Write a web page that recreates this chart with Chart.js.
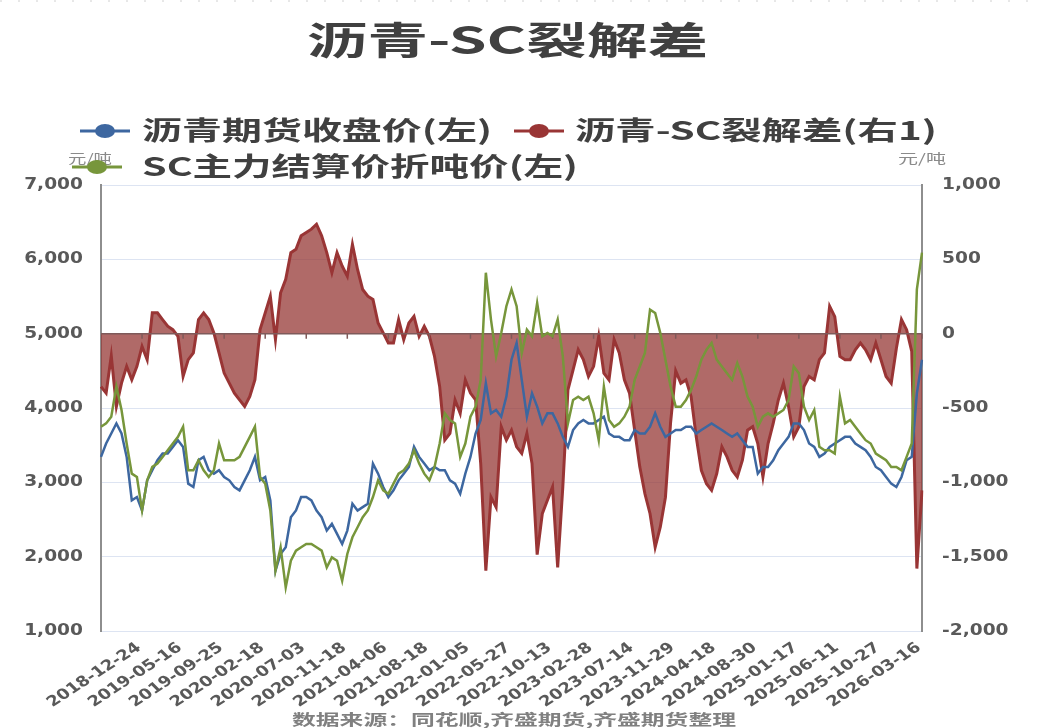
<!DOCTYPE html>
<html>
<head>
<meta charset="utf-8">
<script src="https://cdn.jsdelivr.net/npm/chart.js@4/dist/chart.umd.min.js"></script>
<style>
  html, body { margin: 0; padding: 0; background: #fff; }
  #chart { display: block; }
</style>
</head>
<body>
<canvas id="chart" width="1038" height="728"></canvas>
<script>
// tick labels on the x axis, one every 8 points (the first point has no label)
const tickDates = ['2018-12-24', '2019-05-16', '2019-09-25', '2020-02-18', '2020-07-03',
  '2020-11-18', '2021-04-06', '2021-08-18', '2022-01-05', '2022-05-27', '2022-10-13',
  '2023-02-28', '2023-07-14', '2023-11-29', '2024-04-18', '2024-08-30', '2025-01-17',
  '2025-06-11', '2025-10-27', '2026-03-16'];
const pointsPerTick = 8;

// 沥青期货收盘价 (left axis, 元/吨)
const bitumenClose = [
  3342, 3522, 3657, 3793, 3657, 3342, 2757, 2802, 2621, 3027, 3162, 3297, 3387, 3387, 3477, 3567,
  3477, 2982, 2937, 3297, 3342, 3162, 3117, 3162, 3072, 3027, 2937, 2892, 3027, 3162, 3342, 3027,
  3072, 2757, 1811, 2036, 2126, 2531, 2621, 2802, 2802, 2757, 2621, 2531, 2351, 2441, 2306, 2171,
  2351, 2712, 2621, 2666, 2712, 3252, 3117, 2937, 2802,
  2892, 3027, 3117, 3207, 3477, 3342, 3252, 3162, 3207, 3162, 3162, 3027, 2982, 2847, 3117, 3342,
  3657, 3838, 4333, 3928, 3973, 3883, 4153, 4649, 4874, 4378, 3883, 4198, 4018, 3793, 3928, 3928,
  3793, 3612, 3477, 3703, 3793, 3838, 3793, 3793, 3838, 3883, 3657, 3612, 3612, 3567, 3567, 3703,
  3657, 3657, 3748, 3928, 3748, 3612, 3657, 3703,
  3703, 3748, 3748, 3657, 3703, 3748, 3793, 3748, 3703, 3657, 3612, 3657, 3567, 3477, 3477, 3117,
  3207, 3207, 3297, 3432, 3522, 3612, 3793, 3793, 3703, 3522, 3477, 3342, 3387, 3477, 3522, 3567,
  3612, 3612, 3522, 3477, 3432, 3342, 3207, 3162, 3072, 2982, 2937, 3072, 3297, 3342, 4198, 4649
];

// 沥青-SC裂解差 (right axis)
const crackSpread = [
  -356, -400, -150, -490, -333, -220, -310, -220, -86, -175, 140, 140, 95, 50, 27, -18,
  -288, -175, -130, 95, 140, 95, 5, -130, -265, -333, -400, -446, -490, -423, -310, 27,
  140, 252, -40, 275, 365, 545, 567, 658, 680, 703, 736, 658, 545, 410, 545, 455,
  387, 601, 432, 297, 252, 230, 72, 5, -63,
  -63, 95, -40, 72, 117, -18, 50, -18, -153, -355, -716, -671, -446, -536, -311, -400,
  -446, -874, -1594, -1099, -1167, -626, -716, -649, -761, -806, -671, -874, -1486, -1211, -1121, -1031,
  -1572, -1031, -378, -243, -108, -175, -288, -220, -18, -265, -311, -40, -130, -311, -400, -649,
  -896, -1077, -1211, -1437, -1300, -1100, -600, -250,
  -333, -311, -423, -694, -919, -1009, -1054, -941, -761, -829, -919, -964, -851, -649, -626, -739,
  -964, -739, -604, -446, -333, -491, -694, -626, -355, -288, -311, -175, -130, 185, 115, -153,
  -175, -175, -108, -63, -108, -175, -63, -175, -288, -333, -100, 95, 27, -120, -1580, -1054
];

// SC主力结算价折吨价 (left axis, 元/吨)
const scPerTon = [
  3748, 3793, 3883, 4288, 3973, 3522, 3117, 3072, 2621, 3027, 3207, 3252, 3342, 3432, 3522, 3612,
  3748, 3162, 3162, 3297, 3162, 3072, 3162, 3522, 3297, 3297, 3297, 3342, 3477, 3612, 3748, 3072,
  2982, 2621, 1811, 2126, 1586, 1946, 2081, 2126, 2171, 2171, 2126, 2081, 1856, 1991, 1946, 1676,
  2036, 2261, 2396, 2531, 2621, 2802, 3027, 2892, 2847,
  2982, 3117, 3162, 3252, 3432, 3252, 3117, 3027, 3207, 3522, 3928, 3838, 3793, 3342, 3522, 3883,
  4018, 4378, 5820, 5189, 4694, 5009, 5369, 5595, 5369, 4739, 5054, 4964, 5414, 4964, 5009, 4964,
  5189, 4694, 3793, 4108, 4153, 4108, 4153, 3928, 3567, 4288, 3838, 3748, 3793, 3883, 4018, 4378,
  4559, 4739, 5324, 5279, 5009, 4649, 4288, 4018,
  4018, 4108, 4243, 4423, 4649, 4784, 4874, 4649, 4559, 4468, 4378, 4604, 4423, 4153, 4018, 3748,
  3883, 3928, 3883, 3928, 3973, 4108, 4559, 4468, 4018, 3838, 3973, 3477, 3432, 3432, 3387, 4153,
  3793, 3838, 3748, 3657, 3567, 3522, 3387, 3342, 3297, 3207, 3207, 3162, 3342, 3522, 5595, 6090
];

const labels = [];
for (let i = 0; i <= tickDates.length * pointsPerTick; i++) {
  labels.push(i > 0 && i % pointsPerTick === 0 ? tickDates[i / pointsPerTick - 1] : '');
}

const legendItems = [
  { text: '沥青期货收盘价(左)', color: '#3d67a0', x1: 80, x2: 130, y: 131, tx: 142, tw: 350 },
  { text: '沥青-SC裂解差(右1)', color: '#993535', x1: 514, x2: 564, y: 131, tx: 575, tw: 362 },
  { text: 'SC主力结算价折吨价(左)', color: '#77963b', x1: 72, x2: 122, y: 167, tx: 142, tw: 436 }
];

const stretch = 1.24; // the picture is a bit wider than tall in its lettering
const tickColor = '#595959';

// draw text squeezed/stretched to a given width
function fitText(ctx, text, x, y, w, font, color) {
  ctx.save();
  ctx.font = font;
  ctx.fillStyle = color;
  ctx.textBaseline = 'middle';
  ctx.textAlign = 'left';
  const m = ctx.measureText(text).width;
  ctx.translate(x, y);
  ctx.scale(w / m, 1);
  ctx.fillText(text, 0, 0);
  ctx.restore();
}

const zeroLine = {
  id: 'zeroLine',
  afterDatasetDraw(chart, args) {
    if (args.index !== 1) return;
    const ctx = chart.ctx;
    const { left, right } = chart.chartArea;
    const y0 = chart.scales.y1.getPixelForValue(0);
    ctx.save();
    ctx.strokeStyle = '#7f5a5a';
    ctx.lineWidth = 1.5;
    ctx.beginPath();
    ctx.moveTo(left, y0);
    ctx.lineTo(right, y0);
    labels.forEach((l, i) => {
      if (!l) return;
      const x = chart.scales.x.getPixelForValue(i);
      ctx.moveTo(x, y0);
      ctx.lineTo(x, y0 + 5);
    });
    ctx.stroke();
    ctx.restore();
  }
};

// axis labels, drawn a little wider than normal like the source picture
const axisLabels = {
  id: 'axisLabels',
  afterDraw(chart) {
    const ctx = chart.ctx;
    const xs = chart.scales.x;
    ctx.save();
    ctx.fillStyle = tickColor;
    ctx.textBaseline = 'middle';

    ctx.font = 'bold 14.5px "DejaVu Sans"';
    ctx.textAlign = 'right';
    labels.forEach((l, i) => {
      if (!l) return;
      ctx.save();
      ctx.translate(xs.getPixelForValue(i) - 3, chart.chartArea.bottom + 15);
      ctx.scale(stretch, 1);
      ctx.rotate(-39 * Math.PI / 180);
      ctx.fillText(l, 0, 0);
      ctx.restore();
    });

    ctx.font = 'bold 15px "DejaVu Sans"';
    [['y', 83, 'right'], ['y1', 942, 'left']].forEach(([id, x, align]) => {
      const sc = chart.scales[id];
      ctx.textAlign = align;
      sc.ticks.forEach(t => {
        ctx.save();
        ctx.translate(x, sc.getPixelForValue(t.value));
        ctx.scale(stretch, 1);
        ctx.fillText(t.value.toLocaleString('en-US'), 0, 0);
        ctx.restore();
      });
    });
    ctx.restore();
  }
};

const texts = {
  id: 'texts',
  afterDraw(chart) {
    const ctx = chart.ctx;
    ctx.save();
    ctx.strokeStyle = '#d0d0d0';
    ctx.setLineDash([2, 16]);
    ctx.beginPath();
    ctx.moveTo(0, 1);
    ctx.lineTo(chart.width, 1);
    ctx.stroke();
    ctx.setLineDash([]);

    fitText(ctx, '沥青-SC裂解差', 307, 40, 401, 'bold 38px "Noto Sans CJK SC"', '#404040');

    fitText(ctx, '元/吨', 68, 158, 44, '13px "Noto Sans CJK SC"', '#8a8a8a');
    fitText(ctx, '元/吨', 898, 158, 48, '13px "Noto Sans CJK SC"', '#8a8a8a');

    legendItems.forEach(it => {
      ctx.strokeStyle = it.color;
      ctx.fillStyle = it.color;
      ctx.lineWidth = 3;
      ctx.beginPath();
      ctx.moveTo(it.x1, it.y);
      ctx.lineTo(it.x2, it.y);
      ctx.stroke();
      ctx.beginPath();
      ctx.ellipse((it.x1 + it.x2) / 2, it.y, 10, 7, 0, 0, Math.PI * 2);
      ctx.fill();
      fitText(ctx, it.text, it.tx, it.y - 1, it.tw, 'bold 26px "Noto Sans CJK SC"', '#404040');
    });

    fitText(ctx, '数据来源：同花顺,齐盛期货,齐盛期货整理', 292, 719, 444,
      'bold 15px "Noto Sans CJK SC"', '#808080');
    ctx.restore();
  }
};

new Chart(document.getElementById('chart'), {
  type: 'line',
  data: {
    labels: labels,
    datasets: [
      {
        label: '沥青期货收盘价(左)',
        data: bitumenClose,
        yAxisID: 'y',
        borderColor: '#3d67a0',
        borderWidth: 2.5,
        pointRadius: 0,
        fill: false,
        order: 2
      },
      {
        label: '沥青-SC裂解差(右1)',
        data: crackSpread,
        yAxisID: 'y1',
        borderColor: '#993535',
        backgroundColor: 'rgba(149,55,53,0.745)',
        borderWidth: 3,
        pointRadius: 0,
        fill: 'origin',
        order: 3
      },
      {
        label: 'SC主力结算价折吨价(左)',
        data: scPerTon,
        yAxisID: 'y',
        borderColor: '#77963b',
        borderWidth: 2.5,
        pointRadius: 0,
        fill: false,
        order: 1
      }
    ]
  },
  options: {
    responsive: false,
    animation: false,
    events: [],
    devicePixelRatio: 1,
    layout: { padding: { top: 185, right: 0, bottom: 22, left: 0 } },
    plugins: {
      legend: { display: false },
      title: { display: false },
      tooltip: { enabled: false }
    },
    scales: {
      x: {
        grid: { display: false, drawTicks: false },
        border: { display: false },
        ticks: { display: false },
        afterFit: s => { s.height = 75; }
      },
      y: {
        position: 'left',
        min: 1000,
        max: 7000,
        grid: { color: '#dde4f2', drawTicks: false },
        border: { color: '#8e8e8e', width: 2 },
        ticks: { display: false, stepSize: 1000 },
        afterFit: s => { s.width = 101; }
      },
      y1: {
        position: 'right',
        min: -2000,
        max: 1000,
        grid: { display: false, drawTicks: false },
        border: { color: '#8e8e8e', width: 2 },
        ticks: { display: false, stepSize: 500 },
        afterFit: s => { s.width = 116; }
      }
    }
  },
  plugins: [zeroLine, axisLabels, texts]
});
</script>
</body>
</html>
